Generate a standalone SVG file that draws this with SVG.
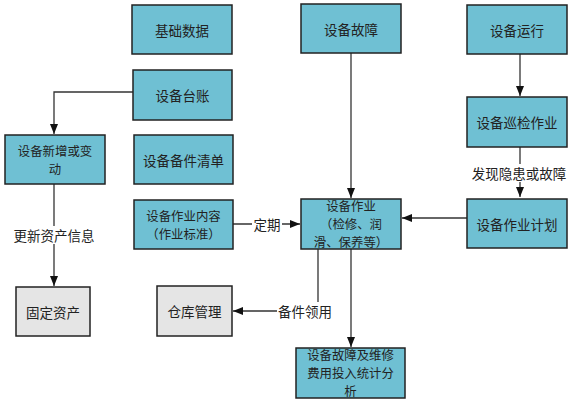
<svg xmlns="http://www.w3.org/2000/svg" width="573" height="401" viewBox="0 0 573 401">
<style>
.n rect{fill:#6fc0d3;stroke:#222;stroke-width:1.5}
.g rect{fill:#e5e5e5;stroke:#222;stroke-width:1.5}
text{font-family:"Noto Sans CJK SC","Noto Sans",sans-serif;font-size:13.5px;fill:#222;text-anchor:middle;dominant-baseline:central}
text.m{font-size:12.4px}
.c path{fill:none;stroke:#333;stroke-width:1.3}
.lb rect{fill:#fff;stroke:none}
</style>
<defs>
<marker id="a" markerUnits="userSpaceOnUse" markerWidth="10" markerHeight="10" viewBox="0 0 10 10" refX="10" refY="5" orient="auto">
<path d="M0,1 L10,5 L0,9 Z" fill="#111"/>
</marker>
</defs>
<rect width="573" height="401" fill="#fff"/>
<g class="c">
<path d="M133,92 H54 V134" marker-end="url(#a)"/>
<path d="M54,184 V286" marker-end="url(#a)"/>
<path d="M233,224 H300" marker-end="url(#a)"/>
<path d="M351,53 V198" marker-end="url(#a)"/>
<path d="M520,54 V96" marker-end="url(#a)"/>
<path d="M520,147 V197" marker-end="url(#a)"/>
<path d="M467,218 H402" marker-end="url(#a)"/>
<path d="M318,249 V311 H233" marker-end="url(#a)"/>
<path d="M351,249 V347" marker-end="url(#a)"/>
</g>
<g class="lb">
<rect x="11" y="226" width="86" height="18"/><text x="54" y="235">更新资产信息</text>
<rect x="252" y="215" width="30" height="18"/><text x="267" y="224">定期</text>
<rect x="470" y="164" width="98" height="18"/><text x="519" y="173">发现隐患或故障</text>
<rect x="277" y="302" width="57" height="18"/><text x="305" y="311">备件领用</text>
</g>
<g id="jichushuju" class="n"><rect x="132" y="5" width="100" height="49"/><text x="182" y="29.5">基础数据</text></g>
<g id="taizhang" class="n"><rect x="133" y="70" width="99" height="50"/><text x="182.5" y="95">设备台账</text></g>
<g id="xinzeng" class="n"><rect x="5" y="135" width="100" height="49"/><text class="m" x="55" y="150.5">设备新增或变</text><text class="m" x="55" y="168.5">动</text></g>
<g id="beijian" class="n"><rect x="134" y="135" width="99" height="49"/><text x="183.5" y="159.5">设备备件清单</text></g>
<g id="neirong" class="n"><rect x="134" y="200" width="99" height="49"/><text class="m" x="183.5" y="215.5">设备作业内容</text><text class="m" x="183.5" y="233.5">（作业标准）</text></g>
<g id="guding" class="g"><rect x="16" y="287" width="74" height="49"/><text x="53" y="311.5">固定资产</text></g>
<g id="cangku" class="g"><rect x="157" y="286" width="75" height="50"/><text x="194.5" y="311">仓库管理</text></g>
<g id="guzhang" class="n"><rect x="301" y="4" width="100" height="49"/><text x="351" y="28.5">设备故障</text></g>
<g id="yunxing" class="n"><rect x="467" y="5" width="100" height="49"/><text x="517" y="29.5">设备运行</text></g>
<g id="xunjian" class="n"><rect x="467" y="97" width="100" height="50"/><text x="517" y="122">设备巡检作业</text></g>
<g id="jihua" class="n"><rect x="467" y="199" width="100" height="49"/><text x="517" y="223.5">设备作业计划</text></g>
<g id="zuoye" class="n"><rect x="301" y="199" width="100" height="50"/><text class="m" x="351" y="206">设备作业</text><text class="m" x="351" y="224">（检修、润</text><text class="m" x="351" y="242">滑、保养等）</text></g>
<g id="tongji" class="n"><rect x="296" y="348" width="109" height="50"/><text class="m" x="350.5" y="355">设备故障及维修</text><text class="m" x="350.5" y="373">费用投入统计分</text><text class="m" x="350.5" y="391">析</text></g>
</svg>
